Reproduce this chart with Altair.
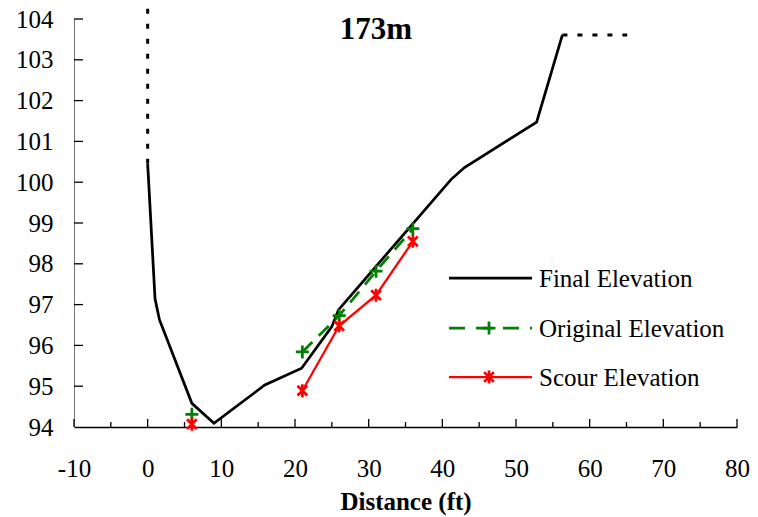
import altair as alt
import pandas as pd

# ---- data -------------------------------------------------------------
# Final bed elevation (solid part of the profile)
final_x = [0, 1.0, 1.6, 6.0, 9.0, 15.9, 20.9, 25.0, 25.9, 41.2, 43.0, 52.8, 56.3]
final_y = [100.45, 97.14, 96.63, 94.58, 94.09, 95.03, 95.44, 96.46, 96.87, 100.07, 100.36, 101.47, 103.61]

# Dotted extensions of the final profile (left bank and right bank top)
bank_left_x = [0, 0]
bank_left_y = [100.45, 104.25]
bank_right_x = [56.3, 65.1]
bank_right_y = [103.61, 103.61]

# Original and scour elevations at the measuring stations
station_x = [6, 21, 26, 31, 36]
station_seg = [0, 1, 1, 1, 1]
original_y = [94.31, 95.84, 96.73, 97.82, 98.86]
scour_y = [94.07, 94.89, 96.48, 97.23, 98.55]

x_major = [-10, 0, 10, 20, 30, 40, 50, 60, 70, 80]
x_minor = [-5, 5, 15, 25, 35, 45, 55, 65, 75]
y_ticks = [95, 96, 97, 98, 99, 100, 101, 102, 103, 104]

legend_labels = ["Final Elevation", "Original Elevation", "Scour Elevation"]

# ---- layout ------------------------------------------------------------
W, H = 663, 408
FONT = "Liberation Serif"

PLUS = "M-1,0L1,0M0,-1L0,1"
ASTERISK = "M0,-1L0,1M-0.75,-0.75L0.75,0.75M-0.75,0.75L0.75,-0.75"
MSIZE = 169

xscale = alt.Scale(domain=[-10, 80], nice=False, zero=False)
yscale = alt.Scale(domain=[94, 104], nice=False, zero=False)

xaxis = alt.Axis(
    values=x_major, ticks=False, grid=False, title="Distance (ft)",
    labelExpr="datum.value + ''",
    labelFont=FONT, labelFontSize=25, labelColor="black", labelPadding=29,
    labelFlush=False,
    domainColor="black", domainWidth=1.5,
    titleFont=FONT, titleFontSize=25, titleFontWeight="bold", titleColor="black",
    titlePadding=8,
)
yaxis = alt.Axis(
    values=[94] + y_ticks, ticks=False, grid=False, title=None,
    labelExpr="datum.value + ''",
    labelFont=FONT, labelFontSize=25, labelColor="black", labelPadding=21,
    labelFlush=False,
    domainColor="#777777", domainWidth=1,
)


def X():
    return alt.X("x:Q", scale=xscale, axis=xaxis)


def Y():
    return alt.Y("y:Q", scale=yscale, axis=yaxis)


final_df = pd.DataFrame({"x": final_x, "y": final_y, "i": range(len(final_x))})
left_df = pd.DataFrame({"x": bank_left_x, "y": bank_left_y, "i": [0, 1]})
right_df = pd.DataFrame({"x": bank_right_x, "y": bank_right_y, "i": [0, 1]})
orig_df = pd.DataFrame({"x": station_x, "y": original_y, "seg": station_seg})
scour_df = pd.DataFrame({"x": station_x, "y": scour_y, "seg": station_seg})

final_line = alt.Chart(final_df).mark_line(
    color="black", strokeWidth=2.75, clip=False
).encode(x=X(), y=Y(), order="i:Q")

bank_left = alt.Chart(left_df).mark_line(
    color="black", strokeWidth=3, strokeDash=[5, 10], strokeCap="butt", clip=False
).encode(x=X(), y=Y(), order="i:Q")

bank_right = alt.Chart(right_df).mark_line(
    color="black", strokeWidth=3, strokeDash=[5, 10], strokeCap="butt", clip=False
).encode(x=X(), y=Y(), order="i:Q")

orig_line = alt.Chart(orig_df).mark_line(
    color="#008000", strokeWidth=2.75, strokeDash=[14, 9]
).encode(x=X(), y=Y(), detail="seg:N")

orig_pts = alt.Chart(orig_df).mark_point(
    shape=PLUS, filled=False, color="#008000", size=MSIZE, strokeWidth=2.75, opacity=1
).encode(x=X(), y=Y())

scour_line = alt.Chart(scour_df).mark_line(
    color="#FF0000", strokeWidth=2.25
).encode(x=X(), y=Y(), detail="seg:N")

scour_pts = alt.Chart(scour_df).mark_point(
    shape=ASTERISK, filled=False, color="#FF0000", size=MSIZE, strokeWidth=2.75, opacity=1
).encode(x=X(), y=Y())

# inward-pointing ticks
xmaj_df = pd.DataFrame({"x": x_major})
xmin_df = pd.DataFrame({"x": x_minor})
ytk_df = pd.DataFrame({"y": y_ticks})

xmaj_ticks = alt.Chart(xmaj_df).mark_rule(color="black", strokeWidth=1.3).encode(
    x=X(), y=alt.value(H), y2=alt.value(H - 8)
)
xmin_ticks = alt.Chart(xmin_df).mark_rule(color="black", strokeWidth=1.3).encode(
    x=X(), y=alt.value(H), y2=alt.value(H - 5)
)
y_tick_rules = alt.Chart(ytk_df).mark_rule(color="black", strokeWidth=1.3).encode(
    y=Y(), x=alt.value(0), x2=alt.value(9)
)

# title inside the plot area
one = pd.DataFrame({"a": [0]})
title = alt.Chart(one).mark_text(
    text="173m", font=FONT, fontSize=31, fontWeight="bold", color="black",
    align="center", baseline="alphabetic"
).encode(x=alt.value(302), y=alt.value(20))

# legend
LX0, LX1, LMX, LTX = 375, 458, 415, 465
LY = [259, 309, 358]

leg = []
leg.append(alt.Chart(one).mark_rule(color="black", strokeWidth=2.75).encode(
    x=alt.value(LX0), x2=alt.value(LX1), y=alt.value(LY[0])))
leg.append(alt.Chart(one).mark_rule(color="#008000", strokeWidth=2.75, strokeDash=[16, 11]).encode(
    x=alt.value(LX0), x2=alt.value(LX1), y=alt.value(LY[1])))
leg.append(alt.Chart(one).mark_point(shape=PLUS, filled=False, color="#008000", size=MSIZE,
                                     strokeWidth=2.75, opacity=1).encode(
    x=alt.value(LMX), y=alt.value(LY[1])))
leg.append(alt.Chart(one).mark_rule(color="#FF0000", strokeWidth=2.25).encode(
    x=alt.value(LX0), x2=alt.value(LX1), y=alt.value(LY[2])))
leg.append(alt.Chart(one).mark_point(shape=ASTERISK, filled=False, color="#FF0000", size=MSIZE,
                                     strokeWidth=2.75, opacity=1).encode(
    x=alt.value(LMX), y=alt.value(LY[2])))
for lab, ly in zip(legend_labels, LY):
    leg.append(alt.Chart(one).mark_text(
        text=lab, font=FONT, fontSize=25, color="black", align="left", baseline="alphabetic"
    ).encode(x=alt.value(LTX), y=alt.value(ly + 8.5)))

chart = alt.layer(
    final_line, bank_left, bank_right,
    orig_line, scour_line, orig_pts, scour_pts,
    xmaj_ticks, xmin_ticks, y_tick_rules,
    title, *leg,
).properties(
    width=W, height=H,
    padding={"left": 74, "top": 19, "right": 21, "bottom": 90},
    autosize=alt.AutoSizeParams(type="none"),
    background="white",
).configure_view(stroke=None).configure_axis(
    labelFont=FONT, titleFont=FONT
)

chart.save("out.html", embed_options={"renderer": "svg", "actions": False})
